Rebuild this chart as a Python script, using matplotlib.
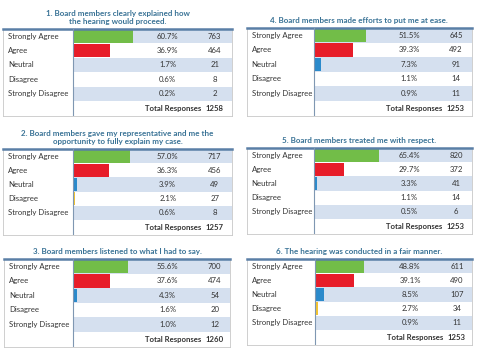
import matplotlib
matplotlib.use("Agg")
import matplotlib.pyplot as plt

# -----------------------------
# 1. Data
# -----------------------------
categories = ["Strongly Agree", "Agree", "Neutral", "Disagree", "Strongly Disagree"]

titles = [
    "1. Board members clearly explained how\nthe hearing would proceed.",
    "2. Board members gave my representative and me the\nopportunity to fully explain my case.",
    "3. Board members listened to what I had to say.",
    "4. Board members made efforts to put me at ease.",
    "5. Board members treated me with respect.",
    "6. The hearing was conducted in a fair manner.",
]

pct_q1 = [60.7, 36.9, 1.7, 0.6, 0.2]
pct_q2 = [57.0, 36.3, 3.9, 2.1, 0.6]
pct_q3 = [55.6, 37.6, 4.3, 1.6, 1.0]
pct_q4 = [51.5, 39.3, 7.3, 1.1, 0.9]
pct_q5 = [65.4, 29.7, 3.3, 1.1, 0.5]
pct_q6 = [48.8, 39.1, 8.5, 2.7, 0.9]

n_q1 = [763, 464, 21, 8, 2]
n_q2 = [717, 456, 49, 27, 8]
n_q3 = [700, 474, 54, 20, 12]
n_q4 = [645, 492, 91, 14, 11]
n_q5 = [820, 372, 41, 14, 6]
n_q6 = [611, 490, 107, 34, 11]

totals = [1258, 1257, 1260, 1253, 1253, 1253]

pcts = [pct_q1, pct_q2, pct_q3, pct_q4, pct_q5, pct_q6]
counts = [n_q1, n_q2, n_q3, n_q4, n_q5, n_q6]

# -----------------------------
# 2. Style
# -----------------------------
bar_colors = ["#72BD48", "#E71D29", "#2B8ACB", "#F3C431", "#1F5C8E"]
stripe = "#D5E0EF"
title_color = "#3A7396"
text_color = "#333333"
W, H = 480, 352

# table boxes in pixels: left, top, right, bottom, separator
boxes = [
    (3.3, 29, 232, 116, 72.7),
    (3.3, 149, 232, 235, 72.7),
    (4.0, 259, 230, 347, 72.7),
    (246.7, 28, 472, 116, 314),
    (246.7, 148, 472, 234, 314),
    (246.7, 259, 472, 345, 315),
]

plt.rcParams["font.family"] = ["Lato", "DejaVu Sans"]
fig = plt.figure(figsize=(W / 100, H / 100), dpi=100)
fig.patch.set_facecolor("white")

for i in range(6):
    left, top, right, bottom, sep = boxes[i]
    ax = fig.add_axes([left / W, 1 - bottom / H, (right - left) / W, (bottom - top) / H])
    ax.set_xlim(left - sep, right - sep)
    ax.set_ylim(5.55, -0.5)
    ax.set_xticks([])
    ax.set_yticks([])
    for s in ax.spines.values():
        s.set_color("#C8C8C8")
        s.set_linewidth(0.6)
    ax.spines["top"].set_color("#5A7FA6")
    ax.spines["top"].set_linewidth(1.8)

    # stripes on odd rows
    for r in range(0, 5, 2):
        ax.axhspan(r - 0.5, r + 0.5, xmin=(sep - left) / (right - left), xmax=1,
                   color=stripe, lw=0, zorder=0)

    ax.barh(range(5), pcts[i], height=0.92, left=0, color=bar_colors, zorder=2)
    ax.axvline(0, color="#7F97B2", lw=0.8, zorder=3)

    for r in range(5):
        ax.text(left - sep + 5, r, categories[r], ha="left", va="center",
                fontsize=5.6, color=text_color)
        ax.text(95, r, f"{pcts[i][r]:.1f}%", ha="center", va="center",
                fontsize=5.6, color=text_color, zorder=4)
        ax.text(142, r, str(counts[i][r]), ha="center", va="center",
                fontsize=5.6, color=text_color, zorder=4)
    ax.text(100, 5.05, "Total Responses", ha="center", va="center",
            fontsize=5.6, fontweight="bold", color=text_color)
    ax.text(142, 5.05, str(totals[i]), ha="center", va="center",
            fontsize=5.6, fontweight="bold", color=text_color)

    ax.annotate(titles[i], (0.5, 1), xycoords="axes fraction", xytext=(0, 3),
                textcoords="offset points", ha="center", va="bottom",
                fontsize=5.8, fontweight="bold", color=title_color, linespacing=1.15)

fig.savefig("out.png", dpi=100, facecolor="white")
